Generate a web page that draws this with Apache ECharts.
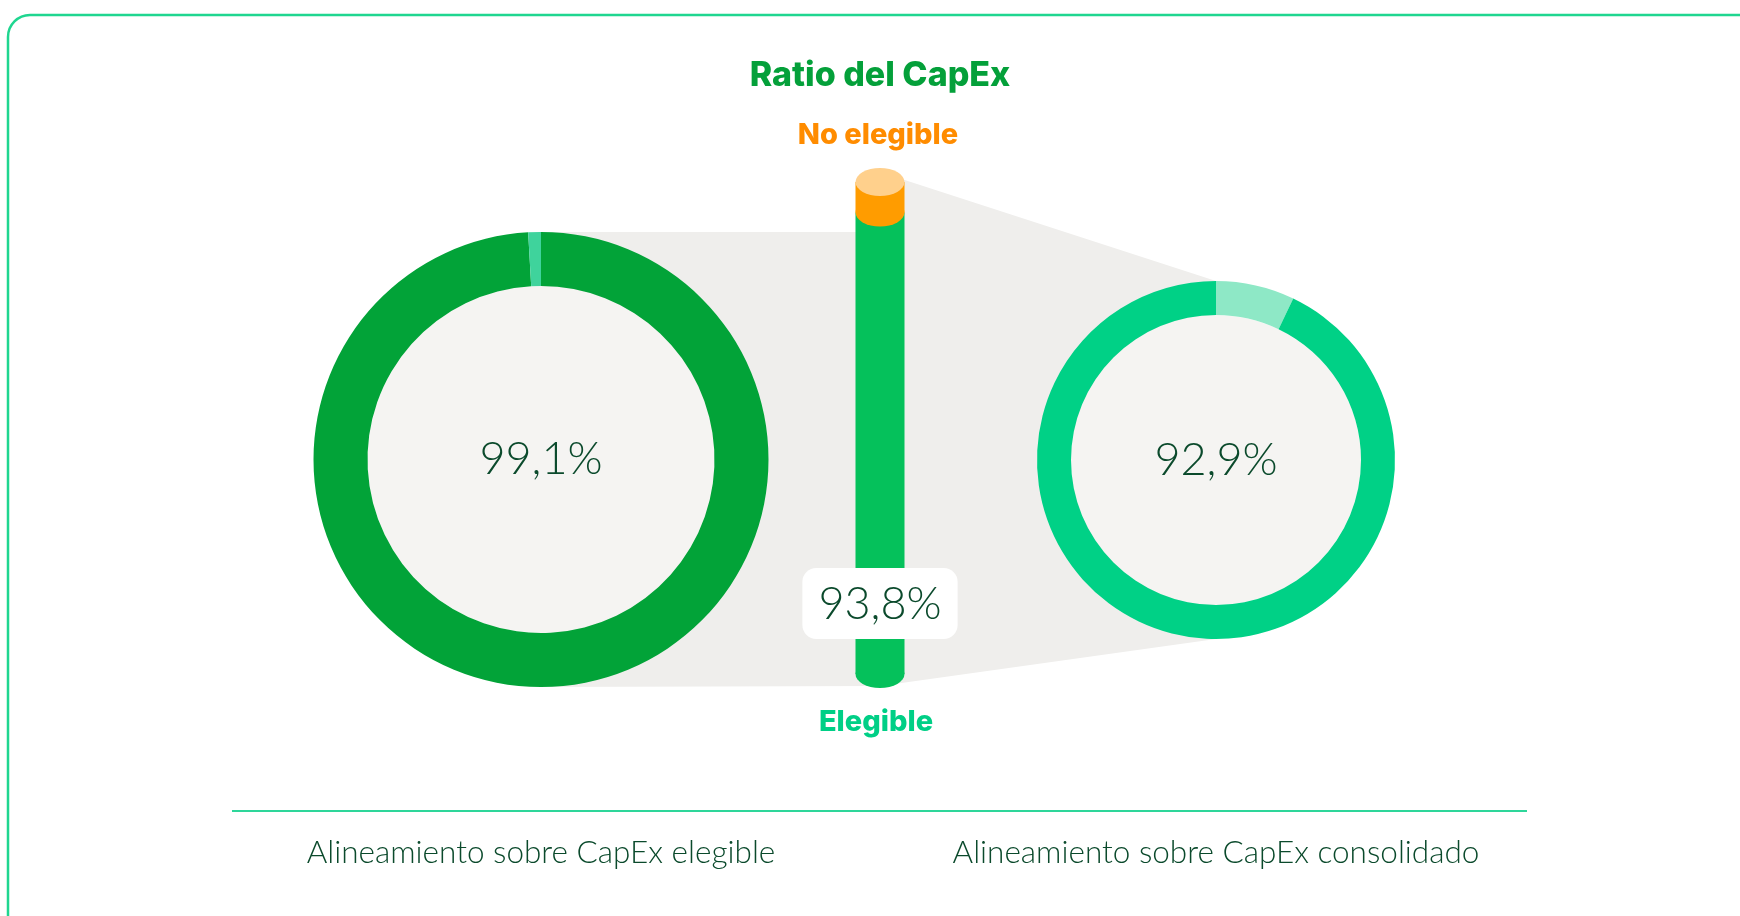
<!DOCTYPE html>
<html>
<head>
<meta charset="utf-8">
<script src="https://cdn.jsdelivr.net/npm/echarts@6/dist/echarts.min.js"></script>
<style>
  html, body { margin: 0; padding: 0; background: #ffffff; }
  #chart { width: 1740px; height: 916px; }
</style>
</head>
<body>
<div id="chart"></div>
<script>
// ---- data ----
const chartTitle = 'Ratio del CapEx';
const barCategories = ['Elegible', 'No elegible'];
const barValues = [93.8, 6.2];
const donutCaptions = ['Alineamiento sobre CapEx elegible', 'Alineamiento sobre CapEx consolidado'];
const donutAligned = [99.1, 92.9];
const donutRest = [0.9, 7.1];

// ---- layout / style ----
const FONT = 'Lato';
const HEAD_FONT = 'Inter';
const DARK = '#0B4A2C';
const CYL = { x: 880, w: 49, top: 182, bottom: 674, capH: 28 };
const LEFT = { x: 541, y: 459.5, r0: 173.5, r1: 227.5 };
const RIGHT = { x: 1216, y: 460, r0: 145, r1: 179 };

const fmt = v => v.toFixed(1).replace('.', ',') + '%';

const pctLabel = {
  show: true,
  position: 'center',
  fontFamily: FONT,
  fontWeight: 300,
  fontSize: 45,
  color: DARK
};

function donut(c, values, colors, labelIndex) {
  return {
    type: 'pie',
    center: [c.x, c.y],
    radius: [c.r0, c.r1],
    startAngle: 90,
    clockwise: true,
    silent: true,
    z: 3,
    label: { show: false, position: 'center' },
    labelLine: { show: false },
    emphasis: { disabled: true },
    itemStyle: { borderWidth: 0 },
    data: values.map((v, i) => ({
      value: v,
      itemStyle: { color: colors[i] },
      label: i === labelIndex ? Object.assign({ formatter: fmt(v) }, pctLabel) : { show: false }
    }))
  };
}

function disc(c) {
  return {
    type: 'pie',
    center: [c.x, c.y],
    radius: [0, c.r0],
    silent: true,
    z: 2,
    label: { show: false },
    labelLine: { show: false },
    emphasis: { disabled: true },
    data: [{ value: 1, itemStyle: { color: '#F5F4F2' } }]
  };
}

// grey connector behind the donuts and the cylinder
const connector = [
  [LEFT.x, LEFT.y - LEFT.r1],
  [CYL.x, LEFT.y - LEFT.r1],
  [CYL.x, CYL.top - 10],
  [RIGHT.x, RIGHT.y - RIGHT.r1],
  [RIGHT.x, RIGHT.y + RIGHT.r1],
  [CYL.x, CYL.bottom + 12],
  [LEFT.x, LEFT.y + LEFT.r1]
];

const chart = echarts.init(document.getElementById('chart'), null, { renderer: 'canvas' });

const total = barValues[0] + barValues[1];

chart.setOption({
  animation: false,
  backgroundColor: '#ffffff',
  grid: {
    left: CYL.x - 50,
    width: 100,
    top: CYL.top,
    height: CYL.bottom - CYL.top
  },
  xAxis: { type: 'category', data: ['CapEx'], show: false },
  yAxis: { type: 'value', min: 0, max: total, show: false },
  graphic: [
    {
      type: 'rect', z: 0, silent: true,
      shape: { x: 8, y: 15, width: 1760, height: 930, r: 22 },
      style: { fill: 'none', stroke: '#1FD690', lineWidth: 2.5 }
    },
    {
      type: 'polygon', z: 0, silent: true,
      shape: { points: connector },
      style: { fill: '#EFEEEC' }
    },
    {
      type: 'line', z: 0, silent: true,
      shape: { x1: 232, y1: 811, x2: 1527, y2: 811 },
      style: { stroke: '#2ED69A', lineWidth: 2 }
    },
    {
      type: 'text', x: CYL.x, y: 76, z: 5,
      style: { text: chartTitle, fill: '#04A03A', fontFamily: HEAD_FONT, fontWeight: 800, fontSize: 34, align: 'center', verticalAlign: 'middle' }
    },
    {
      type: 'text', x: CYL.x - 2, y: 135, z: 5,
      style: { text: barCategories[1], fill: '#FF8C00', fontFamily: HEAD_FONT, fontWeight: 800, fontSize: 29, align: 'center', verticalAlign: 'middle' }
    },
    {
      type: 'text', x: CYL.x - 4, y: 722, z: 5,
      style: { text: barCategories[0], fill: '#00CF86', fontFamily: HEAD_FONT, fontWeight: 800, fontSize: 29, align: 'center', verticalAlign: 'middle' }
    },
    {
      type: 'text', x: LEFT.x, y: 853, z: 5,
      style: { text: donutCaptions[0], fill: DARK, fontFamily: FONT, fontWeight: 300, fontSize: 31.5, align: 'center', verticalAlign: 'middle' }
    },
    {
      type: 'text', x: RIGHT.x, y: 853, z: 5,
      style: { text: donutCaptions[1], fill: DARK, fontFamily: FONT, fontWeight: 300, fontSize: 31.5, align: 'center', verticalAlign: 'middle' }
    }
  ],
  series: [
    disc(LEFT),
    donut(LEFT, [donutAligned[0], donutRest[0]], ['#02A338', '#3FD39C'], 0),
    disc(RIGHT),
    donut(RIGHT, [donutRest[1], donutAligned[1]], ['#8EE8C6', '#00D186'], 1),
    {
      type: 'bar', name: barCategories[0], stack: 'cyl', barWidth: CYL.w, z: 3, silent: true,
      itemStyle: { color: '#05C15B' },
      label: {
        show: true,
        position: 'insideBottom',
        distance: 35,
        formatter: p => fmt(p.value),
        backgroundColor: '#ffffff',
        borderRadius: 14,
        padding: [14, 16, 12, 16],
        fontFamily: FONT,
        fontWeight: 300,
        fontSize: 45,
        color: DARK
      },
      data: [barValues[0]]
    },
    {
      type: 'bar', name: barCategories[1], stack: 'cyl', barWidth: CYL.w, z: 3, silent: true,
      itemStyle: { color: '#FF9C00' },
      data: [barValues[1]]
    },
    {
      // rounded base of the cylinder
      type: 'pictorialBar', symbol: 'circle', symbolSize: [CYL.w, CYL.capH],
      symbolPosition: 'start', symbolOffset: [0, '50%'], z: 2, silent: true,
      itemStyle: { color: '#05C15B' },
      data: [barValues[0]]
    },
    {
      // rim between the two segments
      type: 'pictorialBar', symbol: 'circle', symbolSize: [CYL.w, CYL.capH],
      symbolPosition: 'end', symbolOffset: [0, '-50%'], z: 4, silent: true,
      itemStyle: { color: '#FF9C00' },
      data: [barValues[0]]
    },
    {
      // lid
      type: 'pictorialBar', symbol: 'circle', symbolSize: [CYL.w, CYL.capH],
      symbolPosition: 'end', symbolOffset: [0, '-50%'], z: 4, silent: true,
      itemStyle: { color: '#FFD08C' },
      data: [total]
    }
  ]
});
</script>
</body>
</html>
